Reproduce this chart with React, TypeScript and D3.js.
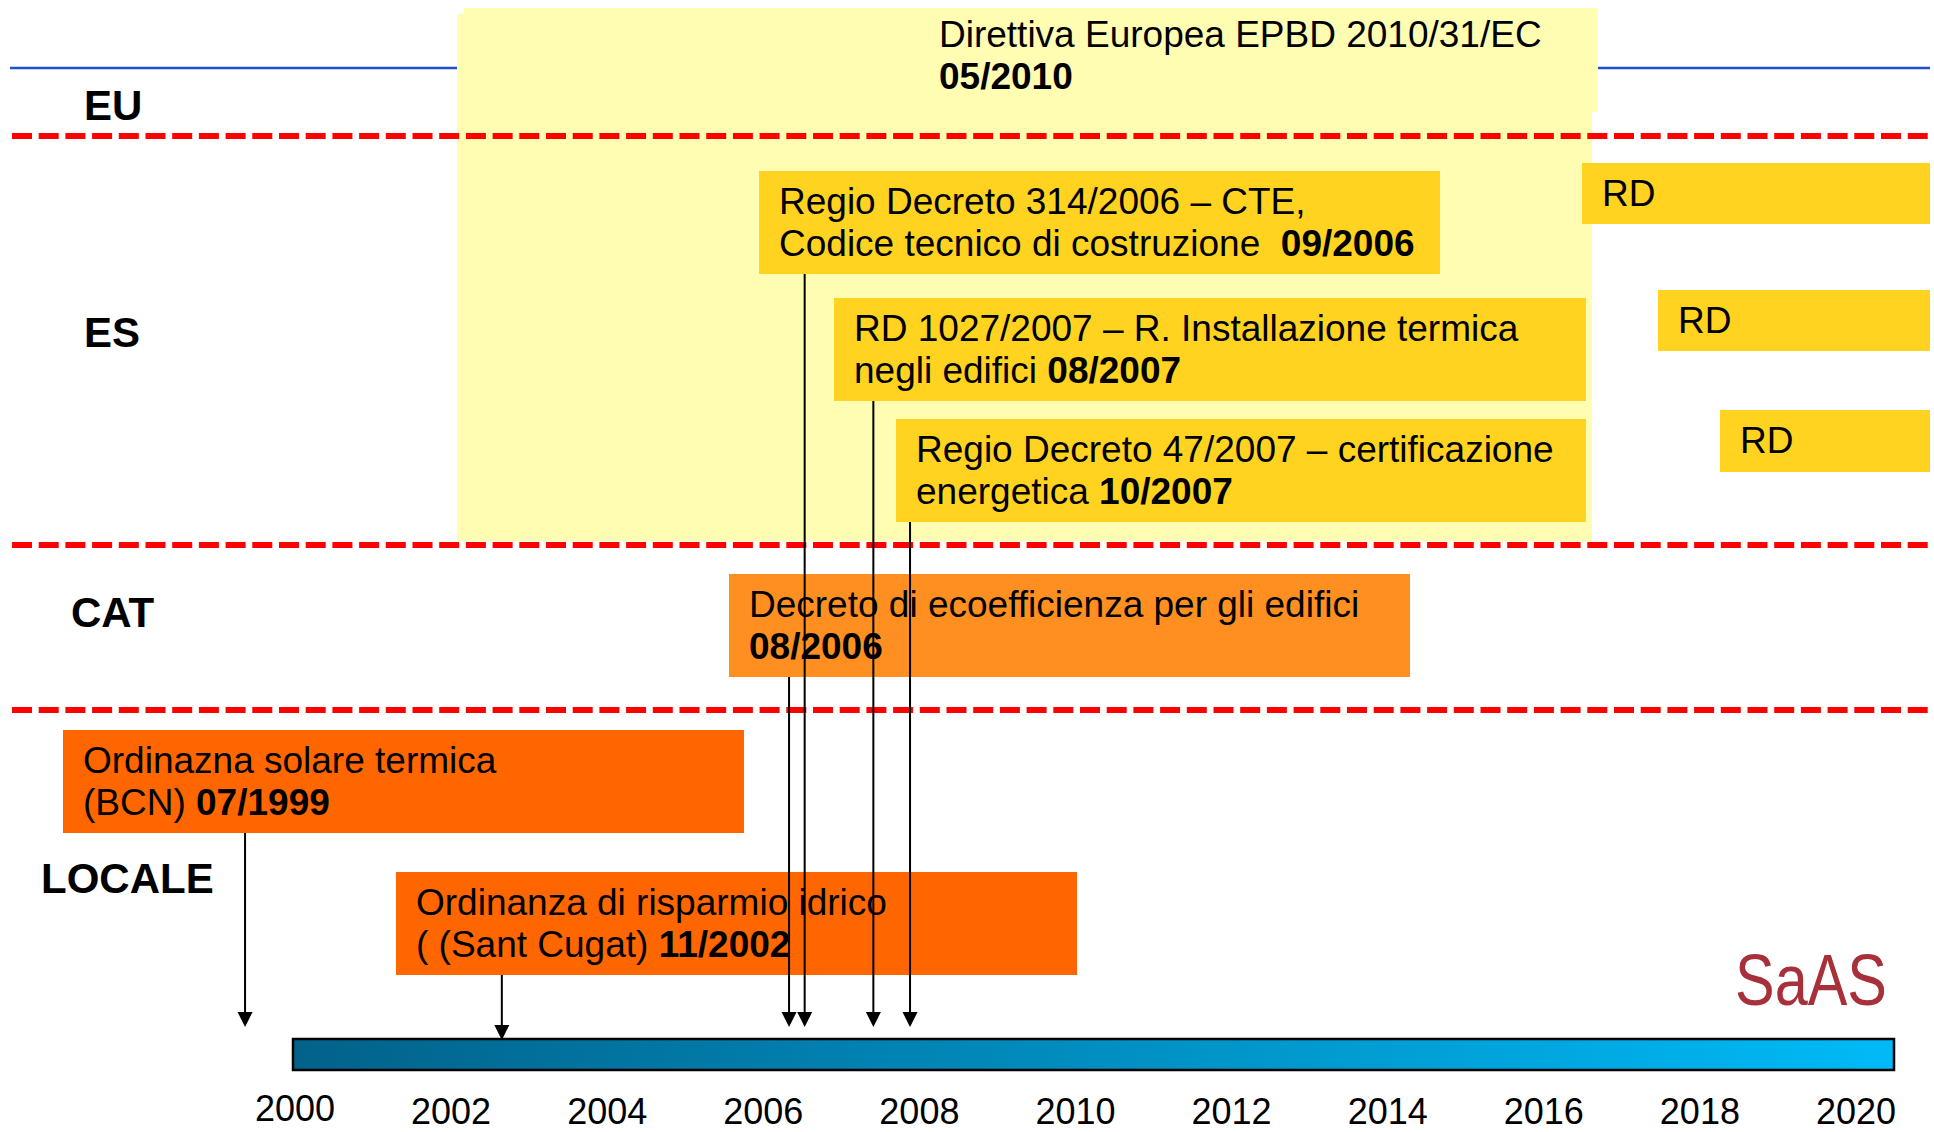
import React from "react";
import * as d3 from "d3";

// ---------- DATA ----------
const levels = ["EU", "ES", "CAT", "LOCALE"];
const yearTicks = [2000, 2002, 2004, 2006, 2008, 2010, 2012, 2014, 2016, 2018, 2020];

const eventLevels = ["EU", "ES", "ES", "ES", "CAT", "LOCALE", "LOCALE"];
const eventLine1 = [
  "Direttiva Europea EPBD 2010/31/EC",
  "Regio Decreto 314/2006 – CTE,",
  "RD 1027/2007 – R. Installazione termica",
  "Regio Decreto 47/2007 – certificazione",
  "Decreto di ecoefficienza per gli edifici",
  "Ordinazna solare termica",
  "Ordinanza di risparmio idrico",
];
const eventLine2 = ["", "Codice tecnico di costruzione  ", "negli edifici ", "energetica ", "", "(BCN) ", "( (Sant Cugat) "];
const eventDates = ["05/2010", "09/2006", "08/2007", "10/2007", "08/2006", "07/1999", "11/2002"];
// position of each arrow on the time axis
const arrowYears = [null, 2006.53, 2007.41, 2007.88, 2006.33, 1999.36, 2002.65];

const futureLabels = ["RD", "RD", "RD"];

// ---------- LAYOUT / STYLE ----------
const W = 1934;
const H = 1132;
const FONT = "'Liberation Sans', Arial, Helvetica, sans-serif";
const levelColor: Record<string, string> = {
  EU: "none",
  ES: "#FFD320",
  CAT: "#FF8F20",
  LOCALE: "#FF6600",
};
const levelLabelPos = [
  { x: 84, y: 120 },
  { x: 84, y: 347 },
  { x: 71, y: 627 },
  { x: 41, y: 893 },
];
const separatorsY = [136, 545, 710];
// box rectangles [x0, y0, x1, y1]
const eventBoxes = [
  [919, 0, 1598, 0],
  [759, 171, 1440, 274],
  [834, 298, 1586, 401],
  [896, 419, 1586, 522],
  [729, 574, 1410, 677],
  [63, 730, 744, 833],
  [396, 872, 1077, 975],
];
const futureBoxes = [
  [1582, 163, 1930, 224],
  [1658, 290, 1930, 351],
  [1720, 410, 1930, 472],
];
const arrowTipY = [0, 1027, 1027, 1027, 1027, 1027, 1040];

const barX0 = 293;
const barX1 = 1894;
const barY0 = 1039;
const barY1 = 1070;

export default function App() {
  const x = d3.scaleLinear().domain([2000, 2020]).range([295, 1856]);

  return (
    <svg
      width={W}
      height={H}
      viewBox={`0 0 ${W} ${H}`}
      style={{ position: "absolute", left: 0, top: 0, display: "block", background: "#fff" }}
      fontFamily={FONT}
    >
      <defs>
        <linearGradient id="barGrad" x1="0" x2="1" y1="0" y2="0">
          <stop offset="0" stopColor="#02628A" />
          <stop offset="1" stopColor="#00BAF7" />
        </linearGradient>
      </defs>

      {/* blue rule */}
      <line x1={10} x2={1930} y1={68} y2={68} stroke="#2050D0" strokeWidth={2.5} />

      {/* light yellow EU directive area */}
      <rect x={464} y={8} width={1598 - 464} height={112 - 8} fill="#FFFDB2" />
      <rect x={457} y={14} width={1592 - 457} height={541 - 14} fill="#FFFDB2" />

      {/* separators */}
      {separatorsY.map((y, i) => (
        <line
          key={i}
          x1={12}
          x2={1930}
          y1={y}
          y2={y}
          stroke="#FF0000"
          strokeWidth={6}
          strokeDasharray="20 6.7"
        />
      ))}

      {/* level labels */}
      {levels.map((l, i) => (
        <text key={l} x={levelLabelPos[i].x} y={levelLabelPos[i].y} fontSize={42} fontWeight="bold" fill="#000">
          {l}
        </text>
      ))}

      {/* event boxes */}
      {eventLevels.map((lev, i) => {
        const [bx0, by0, bx1, by1] = eventBoxes[i];
        const isEU = lev === "EU";
        const tx = isEU ? 939 : bx0 + 20;
        const ty1 = isEU ? 47 : by0 + 43;
        const ty2 = isEU ? 89 : by0 + 85;
        return (
          <g key={i}>
            {!isEU && <rect x={bx0} y={by0} width={bx1 - bx0} height={by1 - by0} fill={levelColor[lev]} />}
            <text x={tx} y={ty1} fontSize={37} fill="#000" style={{ whiteSpace: "pre" }}>
              {eventLine1[i]}
            </text>
            <text x={tx} y={ty2} fontSize={37} fill="#000" style={{ whiteSpace: "pre" }}>
              {eventLine2[i] && <tspan>{eventLine2[i]}</tspan>}
              <tspan fontWeight="bold">{eventDates[i]}</tspan>
            </text>
          </g>
        );
      })}

      {/* future RD boxes */}
      {futureLabels.map((lab, i) => {
        const [bx0, by0, bx1, by1] = futureBoxes[i];
        return (
          <g key={"rd" + i}>
            <rect x={bx0} y={by0} width={bx1 - bx0} height={by1 - by0} fill="#FFD320" />
            <text x={bx0 + 20} y={by0 + 43} fontSize={37} fill="#000">
              {lab}
            </text>
          </g>
        );
      })}

      {/* timeline bar */}
      <rect
        x={barX0}
        y={barY0}
        width={barX1 - barX0}
        height={barY1 - barY0}
        fill="url(#barGrad)"
        stroke="#000"
        strokeWidth={2.5}
      />

      {/* arrows */}
      {arrowYears.map((yr, i) => {
        if (yr === null) return null;
        const ax = x(yr);
        const y0 = eventBoxes[i][3];
        const tip = arrowTipY[i];
        return (
          <g key={"a" + i}>
            <line x1={ax} x2={ax} y1={y0} y2={tip - 12} stroke="#000" strokeWidth={2} />
            <path d={`M${ax - 7.5},${tip - 15} L${ax + 7.5},${tip - 15} L${ax},${tip} Z`} fill="#000" />
          </g>
        );
      })}

      {/* year labels */}
      {yearTicks.map((t) => (
        <text key={t} x={x(t)} y={t === 2000 ? 1121 : 1124} fontSize={36} textAnchor="middle" fill="#000">
          {t}
        </text>
      ))}

      {/* logo */}
      <text x={1735} y={1005} fontSize={72} fill="#A8303A" textLength={152} lengthAdjust="spacingAndGlyphs">
        SaAS
      </text>
    </svg>
  );
}
